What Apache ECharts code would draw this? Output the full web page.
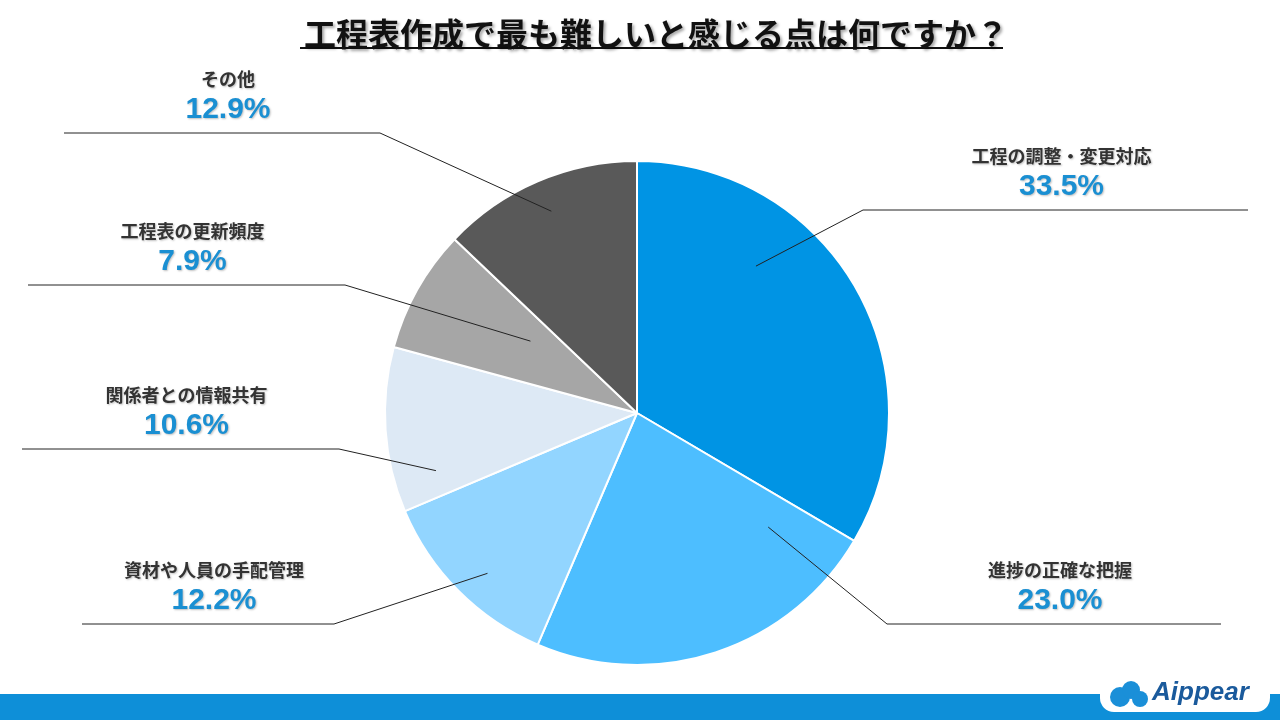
<!DOCTYPE html>
<html>
<head>
<meta charset="utf-8">
<script src="https://cdn.jsdelivr.net/npm/echarts@6/dist/echarts.min.js"></script>
<style>
  html, body { margin: 0; padding: 0; background: #fff; }
  #chart { width: 1280px; height: 720px; }
</style>
</head>
<body>
<div id="chart"></div>
<script>
var categories = ['工程の調整・変更対応', '進捗の正確な把握', '資材や人員の手配管理', '関係者との情報共有', '工程表の更新頻度', 'その他'];
var values = [33.5, 23.0, 12.2, 10.6, 7.9, 12.9];
var colors = ['#0094e4', '#4dbeff', '#92d5ff', '#dde9f5', '#a6a6a6', '#595959'];

// label placement: horizontal leader segment [x1, x2, y], anchor inside slice [angle deg from top, radius fraction]
var labelPos = [
  { seg: [863, 1248, 210], anchor: [39, 0.75] },
  { seg: [887, 1221, 624], anchor: [131, 0.69] },
  { seg: [82, 334, 624], anchor: [223, 0.87] },
  { seg: [22, 339, 449], anchor: [254, 0.83] },
  { seg: [28, 345, 285], anchor: [304, 0.51] },
  { seg: [64, 380, 133], anchor: [337, 0.87] }
];

var cx = 637, cy = 413, R = 252;
var FONT = '"Noto Sans CJK JP", "Noto Sans", sans-serif';

var chart = echarts.init(document.getElementById('chart'));

var pieData = categories.map(function (c, i) {
  return { name: c, value: values[i], itemStyle: { color: colors[i] } };
});

var option = {
  animation: false,
  backgroundColor: '#fff',
  title: {
    text: '工程表作成で最も難しいと感じる点は何ですか？',
    left: 299,
    top: 13,
    textStyle: {
      fontFamily: FONT,
      fontSize: 32,
      fontWeight: 'bold',
      color: '#111',
      textShadowColor: 'rgba(0,0,0,0.35)',
      textShadowBlur: 3,
      textShadowOffsetX: 2,
      textShadowOffsetY: 2
    }
  },
  graphic: [
    { type: 'line', shape: { x1: 300, y1: 48, x2: 1003, y2: 48 }, style: { stroke: '#111', lineWidth: 2 } },
    { type: 'rect', shape: { x: 0, y: 694, width: 1280, height: 26 }, style: { fill: '#0e8fd8' } },
    { type: 'rect', shape: { x: 1100, y: 676, width: 170, height: 36, r: 14 }, style: { fill: '#fff' } },
    { type: 'circle', shape: { cx: 1120, cy: 697, r: 10 }, style: { fill: '#1a8fd8' } },
    { type: 'circle', shape: { cx: 1131, cy: 690, r: 9 }, style: { fill: '#1a8fd8' } },
    { type: 'circle', shape: { cx: 1140, cy: 699, r: 8 }, style: { fill: '#1a8fd8' } },
    {
      type: 'text', left: 1152, top: 680,
      style: { text: 'Aippear', fill: '#1a5a9c', font: 'italic bold 26px "Liberation Sans", Arial, sans-serif' }
    }
  ],
  series: [{
    // the slices
    type: 'pie',
    center: [cx, cy],
    radius: [0, R],
    startAngle: 90,
    clockwise: true,
    silent: true,
    itemStyle: { borderColor: '#fff', borderWidth: 2 },
    label: { show: false },
    labelLine: { show: false },
    data: pieData
  }, {
    // transparent copy on top, carries labels and leader lines over the slices
    type: 'pie',
    center: [cx, cy],
    radius: [0, R],
    startAngle: 90,
    clockwise: true,
    silent: true,
    z: 3,
    itemStyle: { color: 'rgba(0,0,0,0)', borderWidth: 0 },
    label: {
      show: true,
      formatter: function (p) {
        return '{n|' + p.name + '}\n{v|' + p.value.toFixed(1) + '%}';
      },
      rich: {
        n: {
          fontFamily: FONT, fontSize: 18, fontWeight: 'bold', color: '#333',
          lineHeight: 28, align: 'center',
          textShadowColor: 'rgba(0,0,0,0.25)', textShadowBlur: 2, textShadowOffsetX: 1, textShadowOffsetY: 1
        },
        v: {
          fontFamily: '"Liberation Sans", Arial, sans-serif', fontSize: 30, fontWeight: 'bold', color: '#1a8fd2',
          lineHeight: 34, align: 'center',
          textShadowColor: 'rgba(0,0,0,0.25)', textShadowBlur: 2, textShadowOffsetX: 1, textShadowOffsetY: 1
        }
      }
    },
    labelLine: { show: true, lineStyle: { color: '#222', width: 1 } },
    labelLayout: function (params) {
      var lp = labelPos[params.dataIndex];
      var a = lp.anchor[0] * Math.PI / 180;
      var r = lp.anchor[1] * R;
      var ax = cx + r * Math.sin(a);
      var ay = cy - r * Math.cos(a);
      var x1 = lp.seg[0], x2 = lp.seg[1], y = lp.seg[2];
      var near = Math.abs(x1 - cx) < Math.abs(x2 - cx) ? x1 : x2;
      var far = near === x1 ? x2 : x1;
      return {
        x: (x1 + x2) / 2 + 6,
        y: y - 6,
        align: 'center',
        verticalAlign: 'bottom',
        labelLinePoints: [[ax, ay], [near, y], [far, y]]
      };
    },
    data: categories.map(function (c, i) {
      return { name: c, value: values[i] };
    })
  }]
};

chart.setOption(option);
</script>
</body>
</html>
